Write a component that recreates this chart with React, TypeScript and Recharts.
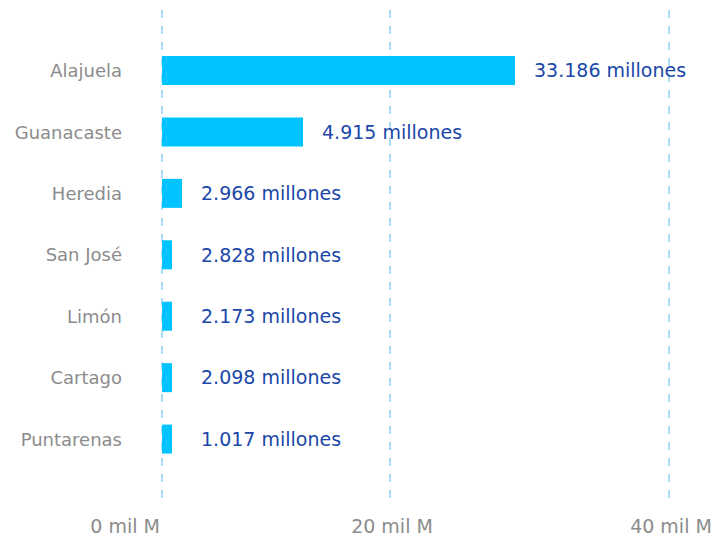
import React from 'react';
import { BarChart, Bar, XAxis, YAxis, CartesianGrid, LabelList } from 'recharts';

// ---- data ----
const regions = ['Alajuela', 'Guanacaste', 'Heredia', 'San José', 'Limón', 'Cartago', 'Puntarenas'];
// bar lengths as drawn, read against the x axis (mil M)
const barValues = [28.96, 12.37, 1.75, 0.88, 0.88, 0.88, 0.88];
// values printed next to the bars (millones)
const labelValues = [33186, 4915, 2966, 2828, 2173, 2098, 1017];
const xTicks = [0, 20, 40];
const xTickLabels = ['0 mil M', '20 mil M', '40 mil M'];
// relative placement of the ticks along the axis in the reference
const xTickFractions = [0, 228 / 507, 1];

const data = regions.map((r, i) => ({ region: r, value: barValues[i], label: labelValues[i] }));

const FONT = 'DejaVu Sans, sans-serif';
const BAR_COLOR = '#00c3ff';
const LABEL_COLOR = '#1a47a8';
const GRAY = '#8c8c8c';

function formatMillones(v: number) {
  const s = String(Math.round(v)).replace(/\B(?=(\d{3})+(?!\d))/g, '.');
  return `${s} millones`;
}

// piecewise-linear scale through the tick knots (d3-like interface)
function warpScale(knots: number[], fracs: number[]): any {
  let dom: number[] = [knots[0], knots[knots.length - 1]];
  let rng: number[] = [0, 1];
  const warp = (v: number) => {
    const n = knots.length;
    let i = 1;
    while (i < n - 1 && v > knots[i]) i++;
    const t = (v - knots[i - 1]) / (knots[i] - knots[i - 1]);
    return fracs[i - 1] + t * (fracs[i] - fracs[i - 1]);
  };
  const unwarp = (f: number) => {
    const n = fracs.length;
    let i = 1;
    while (i < n - 1 && f > fracs[i]) i++;
    const t = (f - fracs[i - 1]) / (fracs[i] - fracs[i - 1]);
    return knots[i - 1] + t * (knots[i] - knots[i - 1]);
  };
  const s: any = (v: number) => {
    const f0 = warp(dom[0]);
    const f1 = warp(dom[dom.length - 1]);
    const t = (warp(Number(v)) - f0) / (f1 - f0);
    return rng[0] + t * (rng[rng.length - 1] - rng[0]);
  };
  s.domain = function (d?: any) {
    if (d === undefined) return dom.slice();
    dom = Array.from(d, Number);
    return s;
  };
  s.range = function (r?: any) {
    if (r === undefined) return rng.slice();
    rng = Array.from(r, Number);
    return s;
  };
  s.copy = () => warpScale(knots, fracs).domain(dom).range(rng);
  s.ticks = () => knots.slice();
  s.tickFormat = () => (v: any) => String(v);
  s.invert = (px: number) => {
    const f0 = warp(dom[0]);
    const f1 = warp(dom[dom.length - 1]);
    const t = (px - rng[0]) / (rng[rng.length - 1] - rng[0]);
    return unwarp(f0 + t * (f1 - f0));
  };
  s.clamp = function (c?: any) { return c === undefined ? false : s; };
  s.nice = () => s;
  s.unknown = function (u?: any) { return u === undefined ? undefined : s; };
  return s;
}

const xScale = warpScale(xTicks, xTickFractions);

const XTick = (props: any) => {
  const { x, y, payload, index } = props;
  const i = xTicks.indexOf(payload.value);
  const first = index === 0;
  return (
    <text
      x={first ? x - 2 : x + 2}
      y={y}
      dy="0.71em"
      textAnchor={first ? 'end' : 'middle'}
      fill={GRAY}
      fontSize={19}
      fontFamily={FONT}
    >
      {xTickLabels[i >= 0 ? i : index]}
    </text>
  );
};

const YTick = (props: any) => {
  const { x, y, payload } = props;
  return (
    <text x={x} y={y} dy="0.355em" textAnchor="end" fill={GRAY} fontSize={18} fontFamily={FONT}>
      {payload.value}
    </text>
  );
};

const ValueLabel = (props: any) => {
  const { x, y, width, height, index } = props;
  const end = Number(x) + Math.max(Number(width), 20);
  return (
    <text
      x={end + 19}
      y={Number(y) + Number(height) / 2}
      dy="0.355em"
      textAnchor="start"
      fill={LABEL_COLOR}
      fontSize={19}
      fontFamily={FONT}
    >
      {formatMillones(labelValues[index])}
    </text>
  );
};

export default function App() {
  return (
    <div style={{ position: 'absolute', left: 0, top: 0, background: '#fff' }}>
      <BarChart
        width={724}
        height={545}
        data={data}
        layout="vertical"
        margin={{ top: 10, right: 55, bottom: 0, left: 0 }}
      >
        <CartesianGrid horizontal={false} stroke="#a9def3" strokeDasharray="8 8" strokeWidth={2} />
        <XAxis
          type="number"
          dataKey="value"
          domain={[0, 40]}
          ticks={xTicks}
          scale={xScale}
          interval={0}
          axisLine={false}
          tickLine={false}
          tickSize={0}
          tickMargin={22}
          height={47}
          tick={<XTick />}
        />
        <YAxis
          type="category"
          dataKey="region"
          width={162}
          interval={0}
          axisLine={false}
          tickLine={false}
          tickSize={0}
          tickMargin={40}
          padding={{ top: 30, bottom: 28 }}
          tick={<YTick />}
        />
        <Bar dataKey="value" fill={BAR_COLOR} barSize={29} isAnimationActive={false}>
          <LabelList dataKey="label" content={<ValueLabel />} />
        </Bar>
      </BarChart>
    </div>
  );
}
